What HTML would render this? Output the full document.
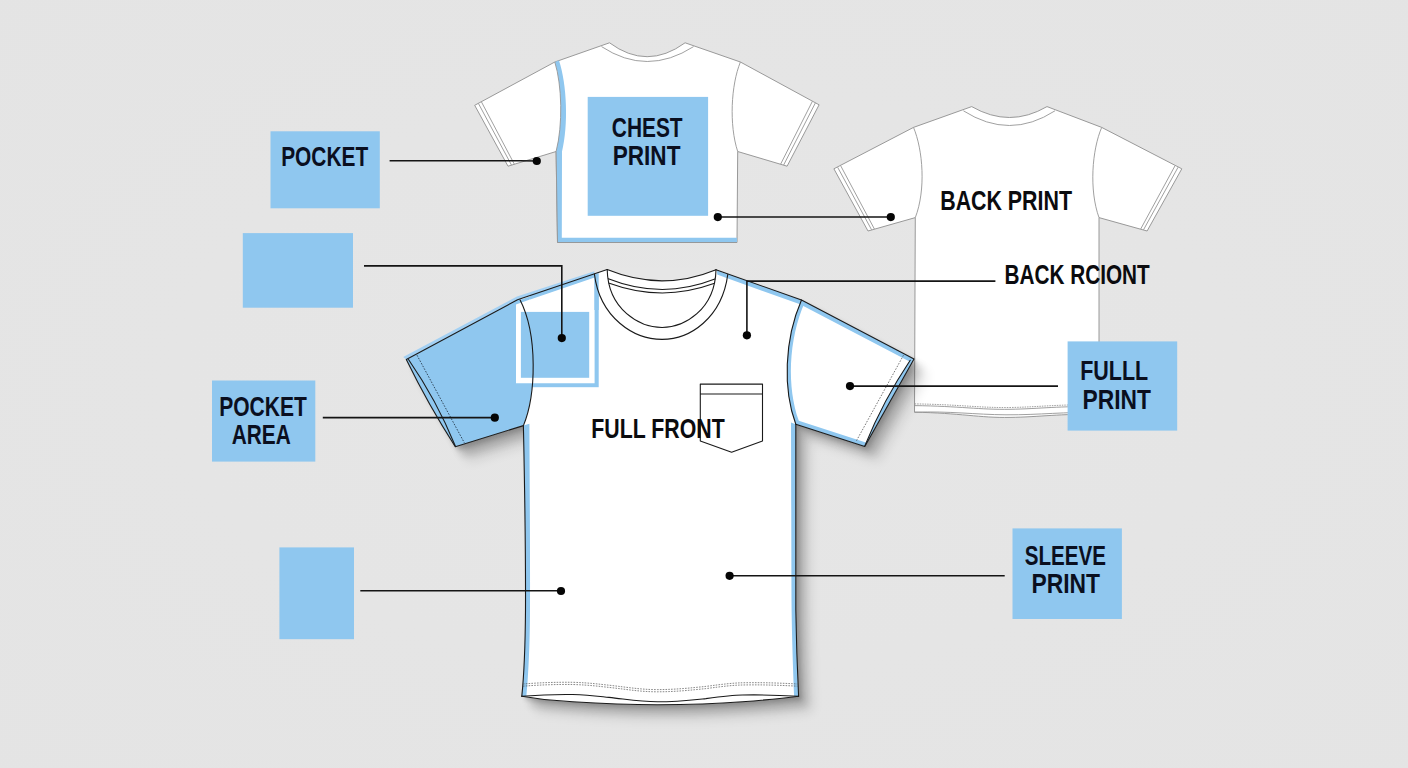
<!DOCTYPE html>
<html lang="en">
<head>
<meta charset="utf-8">
<title>T-shirt print placement guide</title>
<style>
html,body{margin:0;padding:0;background:#e5e5e5;}
body{width:1408px;height:768px;overflow:hidden;position:relative;}
svg{position:absolute;left:0;top:0;display:block;}
text{font-family:"Liberation Sans",sans-serif;font-weight:bold;fill:#0a0f1f;}
.lead{stroke:#141414;stroke-width:1.6;fill:none;}
.dot{fill:#050505;}
.blue{fill:#8fc7ef;}
.thin{fill:none;stroke:#959595;stroke-width:0.9;}
.ink{fill:none;stroke:#1a1a1a;stroke-width:1.1;stroke-linejoin:round;stroke-linecap:round;}
</style>
</head>
<body>
<svg width="1408" height="768" viewBox="0 0 1408 768">
<defs>
  <filter id="sh" x="-20%" y="-20%" width="150%" height="150%">
    <feGaussianBlur stdDeviation="4"/>
  </filter>
  <filter id="sh2" x="-20%" y="-20%" width="150%" height="150%"><feGaussianBlur stdDeviation="2.2"/></filter>
  <filter id="sh3" x="-20%" y="-20%" width="150%" height="150%"><feGaussianBlur stdDeviation="6"/></filter>
  <path id="sil" fill="#000" d="M607.2,269.6 L517.5,299.8 L406.3,359.2 L455.3,446.7 L523.4,425.6 C524.5,480 525.8,540 525.5,610 C525.2,650 523.5,680 521.8,696.2 Q659,712 798.6,696.2 C797.8,680 796.4,650 795.8,610 C795.5,560 795.6,500 795.8,424.2 L864.5,446.5 L914,358.8 L801.5,300 L716,269.7 Z"/>
  <clipPath id="bodyclip">
    <path d="M607.2,269.6 L517.5,299.8 L406.3,359.2 L455.3,446.7 L523.4,425.6 C524.5,480 525.8,540 525.5,610 C525.2,650 523.5,680 521.8,696.2 L798.6,696.2 C797.8,680 796.4,650 795.8,610 C795.5,560 795.6,500 795.8,424.2 L864.5,446.5 L914,358.8 L801.5,300 L716,269.7 Q662,292 607.2,269.6 Z"/>
  </clipPath>
  <radialGradient id="bgg" cx="50%" cy="50%" r="75%">
    <stop offset="0" stop-color="#e6e6e6"/>
    <stop offset="1" stop-color="#e4e4e4"/>
  </radialGradient>
</defs>
<rect x="0" y="0" width="1408" height="768" fill="url(#bgg)"/>

<!-- ===== label boxes ===== -->
<g id="boxes">
  <rect class="blue" x="270.5" y="131.3" width="109.3" height="77"/>
  <rect class="blue" x="242.8" y="233.1" width="110.2" height="74.6"/>
  <rect class="blue" x="212" y="380.5" width="103.3" height="81.1"/>
  <rect class="blue" x="279.4" y="547.4" width="74.6" height="91.8"/>
  <rect class="blue" x="1012.5" y="528.4" width="109.4" height="90.6"/>
</g>

<!-- ===== shirt 3 : back view (right) ===== -->
<g id="shirt3">
  <path fill="#ffffff" stroke="#8f8f8f" stroke-width="0.9" stroke-linejoin="round"
    d="M971.7,106.6 L913.5,127.4 L833.9,168.8 L868,231 L915.3,217.6 L914.5,412.2
       C960,413 980,418 1010,417.4 C1040,417 1060,413.5 1099,414.5
       L1099,217.6 L1147.1,231 L1181.8,168.8 L1101.7,127.4 L1047,106.6
       Q1009.6,128.4 971.7,106.6 Z"/>
  <path class="thin" d="M963.4,110.8 Q1009.6,140.2 1055,110.8"/>
  <path class="thin" d="M913.5,127.4 C923,150 926,190 915.3,217.6"/>
  <path class="thin" d="M1101.7,127.4 C1092,150 1089,190 1099,217.6"/>
  <path class="thin" d="M837.6,167.2 L871.6,229.8 M840.6,165.6 L874.4,229"/>
  <path class="thin" d="M1178.1,167.2 L1143.5,229.8 M1175.1,165.6 L1140.7,229"/>
  <path class="thin" d="M914.5,412.2 C950,411 975,414.6 1006,414.8 C1040,415 1065,411.6 1099,412.6"/>
  <path class="thin" stroke-dasharray="1.5 1" d="M914.5,403.9 C960,404.5 980,408 1010,407.5 C1040,407 1060,404 1099,405"/>
  <path class="thin" d="M914.5,405.6 C960,406.2 980,409.8 1010,409.3 C1040,408.8 1060,405.8 1099,406.8"/>
</g>

<!-- FULLL PRINT box sits over shirt 3 hem -->
<rect class="blue" x="1067.6" y="341.4" width="109.6" height="89.2"/>

<!-- ===== shirt 2 : small front (top centre) ===== -->
<g id="shirt2">
  <path fill="#ffffff" stroke="#8f8f8f" stroke-width="0.9" stroke-linejoin="round"
    d="M609.5,42.8 L554.8,62 L474.7,105.3 L508,166.2 L556.1,151.5 L557.5,242.5 L737,242.5
       L737.7,151.5 L787.1,166.2 L819.1,104.8 L740.4,62 L685.1,42.8 Q647,70.6 609.5,42.8 Z"/>
  <path class="blue" d="M554.8,62 L559,60.5 C567,85 568.5,125 562,151.5 L561.8,237.8 L737,237.8 L737,242.5 L557.5,242.5 L556.1,151.5 C563,125 562,85 554.8,62 Z"/>
  <path class="thin" d="M601.5,46.6 Q647,76.4 693.6,46.6"/>
  <path class="thin" d="M554.8,62 C562,85 563,125 556.1,151.5 L557.5,242.5 L737,242.5"/>
  <path class="thin" d="M740.4,62 C731,85 729,125 737.7,151.5"/>
  <path class="thin" d="M478.4,103.4 L511.5,165.1 M481.4,101.8 L514.4,164.3"/>
  <path class="thin" d="M815.4,102.9 L783.6,165.1 M812.4,101.3 L780.6,164.2"/>
  <rect class="blue" x="587.7" y="96.9" width="120.4" height="118.9"/>
</g>

<!-- ===== main shirt shadow ===== -->
<g id="shadow">
  <g filter="url(#sh2)" opacity="0.16" transform="translate(3,3.5)"><use href="#sil"/></g>
  <g filter="url(#sh)" opacity="0.18" transform="translate(8,9)"><use href="#sil"/></g>
  <g filter="url(#sh3)" opacity="0.11" transform="translate(14,15)"><use href="#sil"/></g>
</g>

<!-- ===== main shirt ===== -->
<g id="shirt1">
  <!-- neck opening shows background, not shadow -->
  <path fill="#e6e6e6" d="M606,268 L717,268 L716,269.7 Q662,292 607.2,269.6 Z"/>
  <!-- light blue halo above left shoulder / sleeve -->
  <path fill="#a3d0f3" d="M594.4,271.2 L517,296.4 L403.2,357 L406.3,359.6 L517.5,299.8 L594.4,274.3 Z"/>
  <!-- body -->
  <path fill="#ffffff" d="M607.2,269.6 L517.5,299.8 L406.3,359.6 C420.9,389.6 437.2,418.7 455.3,446.7 L523.4,425.6 C524.5,480 525.8,540 525.5,610 C525.2,650 523.5,680 521.8,696.2
       C600,704 630,705 659,705 C690,705 730,704 798.6,696.2 C797.8,680 796.4,650 795.8,610 C795.5,560 795.6,500 795.8,424.2 L864.8,446.5 L914,359 L801.5,300 L716,269.7 Q662,292 607.2,269.6 Z"/>
  <!-- blue left sleeve -->
  <path class="blue" d="M517.5,299.8 L406.3,359.6 C420.9,389.6 437.2,418.7 455.3,446.7 L523.4,425.6 C536,395 538,335 520,299.8 Z"/>
  <path class="blue" d="M516,300.2 L531,300.2 L531,387 L516,387 Z"/>
  <!-- blue strip under left shoulder line -->
  <path class="blue" d="M520,299.8 L594.4,274.4 L594.4,277.6 L521.4,302.6 Z"/>
  <!-- blue side strips of body -->
  <path class="blue" d="M523.4,425.6 C524.5,480 525.8,540 525.5,610 C525.2,650 523.5,680 521.8,696.2 L526.4,696.2 C528,680 529.8,650 530,610 C530.2,540 529.6,480 529.4,423.8 Z"/>
  <path class="blue" d="M795.8,424.2 C795.6,500 795.5,560 795.8,610 C796.4,650 797.8,680 798.6,696.2 L794.2,696.2 C793.6,680 792.2,650 791.6,610 C791.3,560 791.3,500 791,422.6 Z"/>
  <!-- chest square -->
  <rect class="blue" x="530" y="270" width="68.7" height="117.2" clip-path="url(#bodyclip)"/>
  <path fill="#ffffff" d="M521.4,302.6 L594.6,277.6 L594.6,383.3 L516,383.3 L516,304.4 Z"/>
  <rect class="blue" x="520.9" y="311.9" width="68.3" height="65.9"/>
  <!-- right shoulder / sleeve blue edging -->
  <path class="blue" d="M716,269.7 L801.5,300 L914,359 L911.9,362.8 L800,304.2 L728,278.6 L727.8,274.4 Z"/>
  <path class="blue" d="M801.5,300 C784,340 783,390 795.8,424.2 L864.8,446.5 L866.6,442.8 L798.8,420.8 C787,388 788,340 805,301.8 Z"/>
  <path class="blue" d="M914,359 L864.8,446.5 L864.9,445.6 C877.1,415.7 892.2,387.2 910.2,360.3 Z"/>
  <path class="blue" d="M594.4,274.2 L607.2,269.6 L607.6,273 L598.7,277 Z"/>
</g>

<!-- ===== main shirt line work ===== -->
<g id="shirt1lines">
  <!-- collar band: white -->
  <path fill="#ffffff" stroke="none" d="M607.2,269.6 C608,310 640,327.5 662.1,327.5 C684,327.5 715,310 716,269.7 L727.8,274.4 C722,318 690,339.4 662.1,339.4 C634,339.4 600,318 594.4,274.1 Z"/>
  <path fill="#ffffff" stroke="none" d="M607.2,269.6 Q662,292 716,269.7 L713.8,283.6 Q662,302.5 609.3,283.2 Z"/>
  <path class="blue" d="M594.4,274.3 L598.7,273 L598.7,310 L594.4,310 Z" clip-path="url(#bodyclip)"/>
  <path class="blue" d="M717,270.6 L727.8,274.4 L727.2,278.2 L717.2,274.6 Z"/>
  <path class="ink" d="M607.2,269.6 L517.5,299.8 L406.3,359.6 C420.9,389.6 437.2,418.7 455.3,446.7 L523.4,425.6 C524.5,480 525.8,540 525.5,610 C525.2,650 523.5,680 521.8,696.2"/>
  <path class="ink" d="M716,269.7 L801.5,300 L914,359 L864.8,446.5 L795.8,424.2 C795.6,500 795.5,560 795.8,610 C796.4,650 797.8,680 798.6,696.2"/>
  <!-- hem -->
  <path fill="#ffffff" stroke="none" d="M521.8,696.2 C540,694.8 558,694.3 572.7,694.5 C590,695 600,696.5 609,697.4 C628,699.5 640,701.8 657.4,701.8 C676,701.8 692,700 705.9,698.6 C722,696.5 732,695.2 742.2,695 C762,694.6 780,695.2 798.6,696.2 C785,698 765,700 742.2,701.8 C720,703.5 690,704.7 657.4,704.7 C630,704.7 600,703.5 572.7,701.8 C560,701.3 540,699.5 521.8,696.2 Z"/>
  <path class="ink" d="M521.8,696.2 C540,694.8 558,694.3 572.7,694.5 C590,695 600,696.5 609,697.4 C628,699.5 640,701.8 657.4,701.8 C676,701.8 692,700 705.9,698.6 C722,696.5 732,695.2 742.2,695 C762,694.6 780,695.2 798.6,696.2"/>
  <path class="ink" stroke-width="0.9" d="M521.8,696.2 C540,699.5 560,701.3 572.7,701.8 C600,703.5 630,704.7 657.4,704.7 C690,704.7 720,703.5 742.2,701.8 C765,700 785,698 798.6,696.2"/>
  <path style="fill:none;stroke:#555;stroke-width:0.7;stroke-dasharray:1.6 1.2" d="M523,684.0 C540,682.6 558,682.1 572.7,682.3 C590,682.8 600,684.3 609,685.2 C628,687.3 640,689.6 657.4,689.6 C676,689.6 692,687.8 705.9,686.4 C722,684.3 732,683.0 742.2,682.8 C762,682.4 780,683.0 797.6,684.0"/>
  <path style="fill:none;stroke:#555;stroke-width:0.7;stroke-dasharray:1.6 1.2" d="M523,686.2 C540,684.8 558,684.3 572.7,684.5 C590,685.0 600,686.5 609,687.4 C628,689.5 640,691.8 657.4,691.8 C676,691.8 692,690.0 705.9,688.6 C722,686.5 732,685.2 742.2,685.0 C762,684.6 780,685.2 797.6,686.2"/>
  <!-- sleeve seams -->
  <path class="ink" d="M520,299.8 C538,335 536,395 523.4,425.6"/>
  <path class="ink" d="M801.5,300 C784,340 783,390 795.8,424.2"/>
  <!-- left cuff -->
  <path class="ink" stroke-width="0.9" d="M408.5,359.5 C427.2,386.5 442.8,415.4 455.3,446"/>
  <path style="fill:none;stroke:#1d2c3c;stroke-width:0.8;stroke-dasharray:1.6 1.4" d="M417,355.2 L464.4,442.9"/>
  <!-- right cuff -->
  <path class="ink" stroke-width="0.9" d="M910.2,360.3 C892.2,387.2 877.1,415.7 864.9,445.6"/>
  <path style="fill:none;stroke:#555;stroke-width:0.8;stroke-dasharray:1.6 1.4" d="M903.5,355.2 L856,441.6"/>
  <!-- collar -->
  <path class="ink" d="M607.2,269.6 Q662,292 716,269.7"/>
  <path class="ink" d="M608.3,278.7 Q662,300 714.9,279.1"/>
  <path class="ink" d="M609.3,283.2 Q662,302.5 713.8,283.6"/>
  <path class="ink" d="M607.2,269.6 C608,310 640,327.5 662.1,327.5 C684,327.5 715,310 716,269.7"/>
  <path class="ink" d="M594.4,274.1 C600,318 634,339.4 662.1,339.4 C690,339.4 722,318 727.8,274.4"/>
  <!-- pocket -->
  <path class="ink" stroke-width="0.9" d="M700.3,384.1 L762.5,384.1 L762.5,441 L731.6,452.2 L700.3,441 Z M700.3,394 L762.5,394"/>
</g>

<!-- ===== leader lines ===== -->
<g id="leaders">
  <path class="lead" d="M389.6,160.8 L520,160.8 Q530,160.8 536.8,161"/>
  <path class="lead" d="M364,265.9 L561.8,265.9 L561.8,338"/>
  <path class="lead" d="M322.8,417.6 L494.8,417.6"/>
  <path class="lead" d="M360.3,590.8 L561,590.8"/>
  <path class="lead" d="M717.8,217 L890.8,217"/>
  <path class="lead" d="M746.9,335.3 L746.9,281.1 L995.4,281.1"/>
  <path class="lead" d="M850,386.1 L1058,386.1"/>
  <path class="lead" d="M729.6,575.7 L1004.7,575.7"/>
  <circle class="dot" cx="536.8" cy="161" r="4.1"/>
  <circle class="dot" cx="561.8" cy="338.1" r="4.1"/>
  <circle class="dot" cx="494.8" cy="417.7" r="4.1"/>
  <circle class="dot" cx="561" cy="591" r="4.1"/>
  <circle class="dot" cx="717.8" cy="217.1" r="4.1"/>
  <circle class="dot" cx="890.8" cy="217.1" r="4.1"/>
  <circle class="dot" cx="746.9" cy="335.3" r="4.1"/>
  <circle class="dot" cx="850" cy="386.1" r="4.1"/>
  <circle class="dot" cx="729.6" cy="575.8" r="4.1"/>
</g>

<!-- ===== labels ===== -->
<g id="labels" font-size="27.2">
  <text x="281.2" y="165.7" textLength="87" lengthAdjust="spacingAndGlyphs">POCKET</text>
  <text x="611.8" y="136.6" textLength="70.8" lengthAdjust="spacingAndGlyphs">CHEST</text>
  <text x="612.7" y="164.7" textLength="67.8" lengthAdjust="spacingAndGlyphs">PRINT</text>
  <text x="940.2" y="209.7" textLength="131.8" lengthAdjust="spacingAndGlyphs" style="fill:#0b0b0e">BACK PRINT</text>
  <text x="1004.5" y="283.7" textLength="145.2" lengthAdjust="spacingAndGlyphs" style="fill:#0b0b0e">BACK RCIONT</text>
  <text x="1080.2" y="380.1" textLength="68" lengthAdjust="spacingAndGlyphs">FULLL</text>
  <text x="1082.5" y="408.8" textLength="68.4" lengthAdjust="spacingAndGlyphs">PRINT</text>
  <text x="219.2" y="415.5" textLength="87.6" lengthAdjust="spacingAndGlyphs">POCKET</text>
  <text x="231.8" y="443.9" textLength="59" lengthAdjust="spacingAndGlyphs">AREA</text>
  <text x="591.3" y="438.1" textLength="133.4" lengthAdjust="spacingAndGlyphs" style="fill:#0b0b0e">FULL FRONT</text>
  <text x="1024.8" y="565.2" textLength="81.2" lengthAdjust="spacingAndGlyphs">SLEEVE</text>
  <text x="1031.4" y="593.3" textLength="68.6" lengthAdjust="spacingAndGlyphs">PRINT</text>
</g>
</svg>
</body>
</html>
